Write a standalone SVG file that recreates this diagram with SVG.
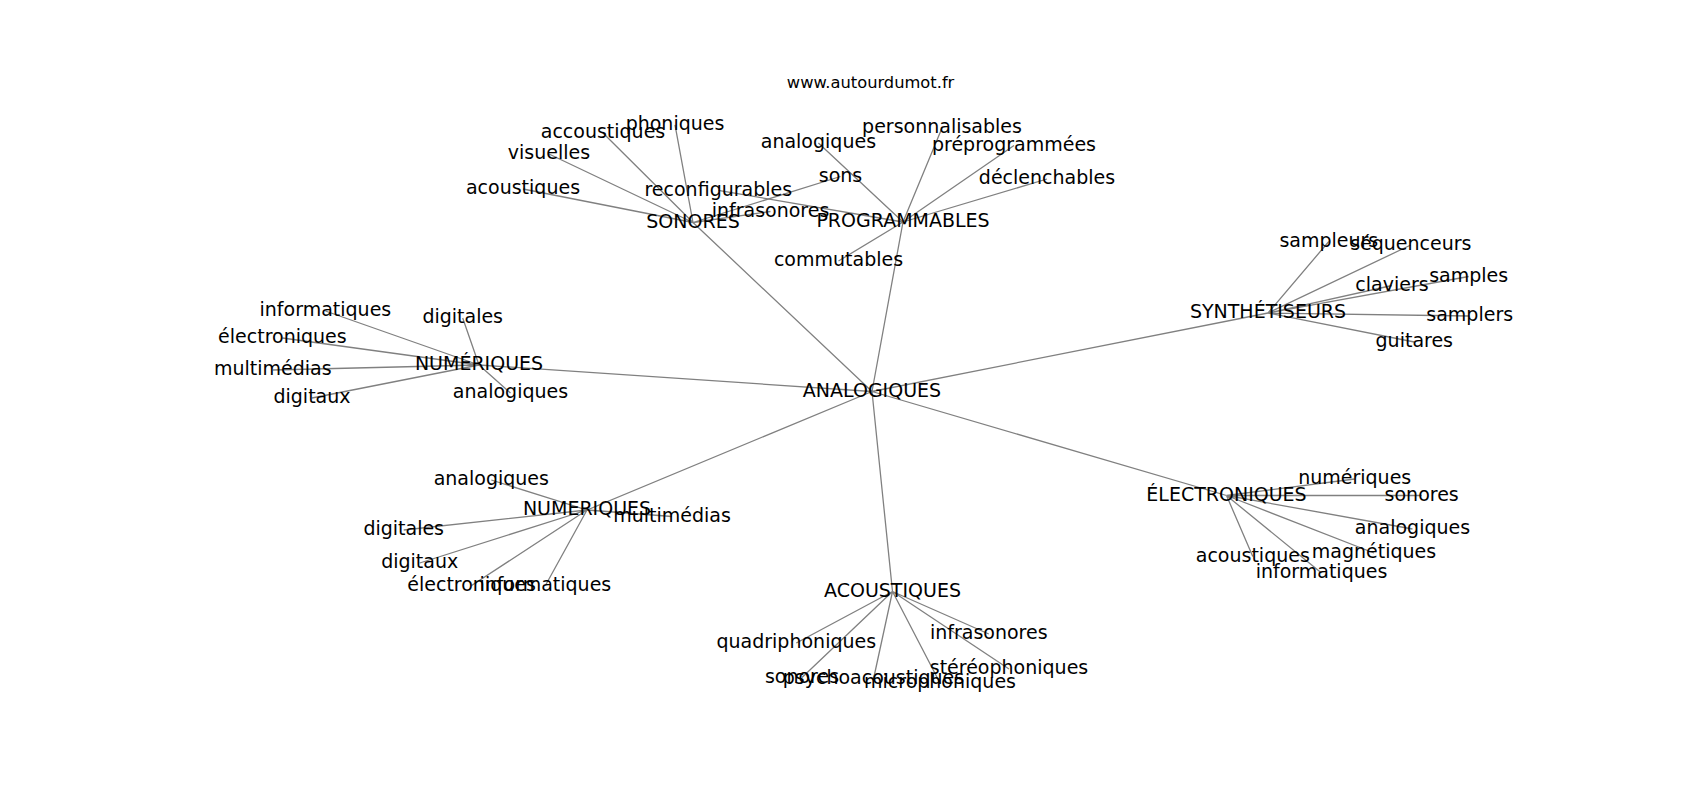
<svg xmlns="http://www.w3.org/2000/svg" width="1700" height="800" viewBox="0 0 1700 800">
<style>
.e{stroke:#808080;stroke-width:1.3;fill:none}
text{font-family:"DejaVu Sans","Liberation Sans",sans-serif;font-size:19px;fill:#000;text-anchor:middle}
.t{font-size:16.3px}
</style>
<rect width="1700" height="800" fill="#fff"/>
<g id="connectors">
<path class="e" d="M872 391.5L693 222.5M872 391.5L903 222M872 391.5L479 365M872 391.5L1268 313M872 391.5L1226.5 495.5M872 391.5L587 510M872 391.5L892.5 591.5"/>
<path class="e" d="M693 222.5L675 124.8M693 222.5L603 133M693 222.5L549 154M693 222.5L523 189M693 222.5L770.5 211.5M693 222.5L840.5 176.5"/>
<path class="e" d="M903 222L718.3 190.3M903 222L818.4 143M903 222L942 128M903 222L1014 145.5M903 222L1047 179M903 222L838.5 261"/>
<path class="e" d="M479 365L325.4 311M479 365L462.7 318M479 365L282.4 338M479 365L272.8 370M479 365L312 398M479 365L510.5 393"/>
<path class="e" d="M1268 313L1328.8 241.5M1268 313L1410.8 245M1268 313L1468.7 276.5M1268 313L1392 285.5M1268 313L1469.7 316M1268 313L1414.3 342"/>
<path class="e" d="M1226.5 495.5L1354.7 479M1226.5 495.5L1421.7 495.5M1226.5 495.5L1412.5 529M1226.5 495.5L1374 553M1226.5 495.5L1252.8 556.5M1226.5 495.5L1321.5 573"/>
<path class="e" d="M587 510L491.3 480M587 510L672 516.5M587 510L403.7 530M587 510L419.7 563M587 510L471.6 585.5M587 510L545.4 585.5"/>
<path class="e" d="M892.5 591.5L796.3 643M892.5 591.5L988.8 634M892.5 591.5L1009 669M892.5 591.5L802 677.5M892.5 591.5L873.5 679M892.5 591.5L940 683"/>
</g>
<text class="t" x="870.6" y="87.5">www.autourdumot.fr</text>
<g id="n-analogiques"><text x="872" y="396.7">ANALOGIQUES</text></g>
<g id="n-sonores">
<text x="693" y="227.7">SONORES</text>
<text x="675" y="130">phoniques</text>
<text x="603" y="138.3">accoustiques</text>
<text x="549" y="159.3">visuelles</text>
<text x="523" y="194">acoustiques</text>
<text x="770.5" y="216.7">infrasonores</text>
<text x="840.5" y="181.7">sons</text>
</g>
<g id="n-programmables">
<text x="903" y="227">PROGRAMMABLES</text>
<text x="718.3" y="195.5">reconfigurables</text>
<text x="818.4" y="148.3">analogiques</text>
<text x="942" y="133.3">personnalisables</text>
<text x="1014" y="150.7">préprogrammées</text>
<text x="1047" y="184">déclenchables</text>
<text x="838.5" y="266">commutables</text>
</g>
<g id="n-numeriques1">
<text x="479" y="370">NUMÉRIQUES</text>
<text x="325.4" y="316">informatiques</text>
<text x="462.7" y="323.3">digitales</text>
<text x="282.4" y="343.3">électroniques</text>
<text x="272.8" y="375">multimédias</text>
<text x="312" y="403.3">digitaux</text>
<text x="510.5" y="398.3">analogiques</text>
</g>
<g id="n-synthetiseurs">
<text x="1268" y="318.3">SYNTHÉTISEURS</text>
<text x="1328.8" y="246.7">sampleurs</text>
<text x="1410.8" y="250">séquenceurs</text>
<text x="1468.7" y="281.7">samples</text>
<text x="1392" y="290.7">claviers</text>
<text x="1469.7" y="321">samplers</text>
<text x="1414.3" y="347.3">guitares</text>
</g>
<g id="n-electroniques">
<text x="1226.5" y="500.7">ÉLECTRONIQUES</text>
<text x="1354.7" y="484">numériques</text>
<text x="1421.7" y="500.7">sonores</text>
<text x="1412.5" y="534">analogiques</text>
<text x="1374" y="558.3">magnétiques</text>
<text x="1252.8" y="561.7">acoustiques</text>
<text x="1321.5" y="578.3">informatiques</text>
</g>
<g id="n-numeriques2">
<text x="587" y="515">NUMERIQUES</text>
<text x="491.3" y="485">analogiques</text>
<text x="672" y="521.7">multimédias</text>
<text x="403.7" y="535">digitales</text>
<text x="419.7" y="568.3">digitaux</text>
<text x="471.6" y="590.5">électroniques</text>
<text x="545.4" y="590.5">informatiques</text>
</g>
<g id="n-acoustiques">
<text x="892.5" y="596.7">ACOUSTIQUES</text>
<text x="796.3" y="648.3">quadriphoniques</text>
<text x="988.8" y="639.3">infrasonores</text>
<text x="1009" y="674">stéréophoniques</text>
<text x="802" y="682.7">sonores</text>
<text x="873.5" y="684">psychoacoustiques</text>
<text x="940" y="688.3">microphoniques</text>
</g>
</svg>
